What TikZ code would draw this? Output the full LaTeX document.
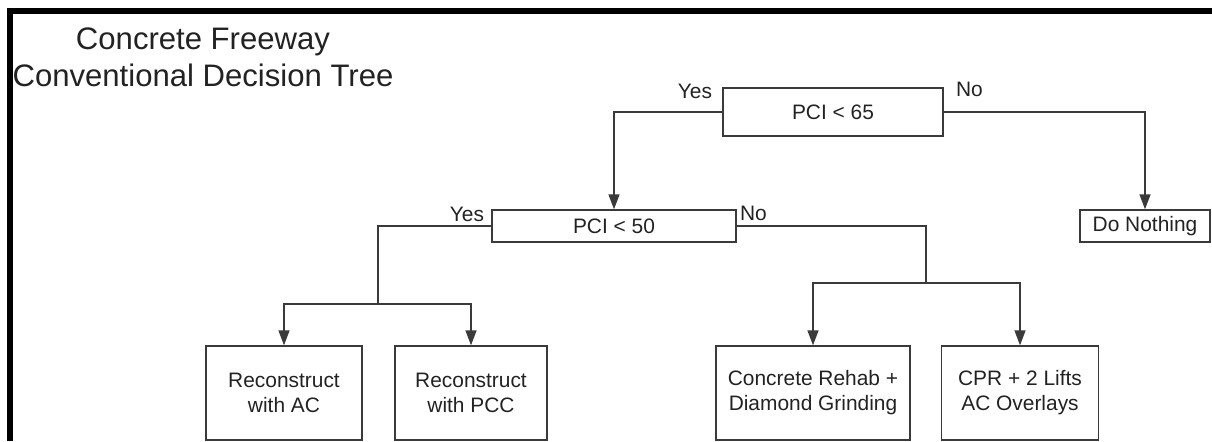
\documentclass[tikz,border=0pt]{standalone}
\usepackage{fontspec}
\setmainfont{Liberation Sans}
\usetikzlibrary{arrows.meta,positioning}
\definecolor{linegray}{HTML}{3A3A3A}
\definecolor{textgray}{HTML}{222222}

\begin{document}
\begin{tikzpicture}[x=0.02cm, y=-0.02cm,
  box/.style={rectangle, draw=linegray, line width=0.8pt, inner sep=0pt, align=center, text=textgray,
    font=\fontsize{11.9}{14.2}\selectfont},
  lbl/.style={inner sep=0pt, text=textgray, font=\fontsize{11.9}{14.2}\selectfont},
  conn/.style={draw=linegray, line width=0.8pt},
  arr/.style={conn, -{Triangle[length=3mm, width=2.2mm]}}
]
  \useasboundingbox (0,0) rectangle (1212,441);
  % frame
  \draw[line width=0.12cm] (1212,11) -- (10,11) -- (10,441);
  \node[align=center, text=textgray, font=\fontsize{17.7}{21}\selectfont] (title) at (203,57) {Concrete Freeway\\Conventional Decision Tree};

  \node[box, minimum width=4.4cm, minimum height=0.96cm] (pci65) at (833,112) {PCI < 65};
  \node[box, minimum width=4.88cm, minimum height=0.64cm] (pci50) at (614,226) {PCI < 50};
  \node[box, minimum width=2.6cm, minimum height=0.64cm] (nothing) at (1145,226) {Do Nothing};
  \node[box, minimum width=3.12cm, minimum height=1.88cm] (recac) at (284,393) {Reconstruct\\with AC};
  \node[box, minimum width=3.04cm, minimum height=1.88cm] (recpcc) at (471,393) {Reconstruct\\with PCC};
  \node[box, minimum width=3.88cm, minimum height=1.88cm] (rehab) at (813,393) {Concrete Rehab +\\Diamond Grinding};
  \node[box, minimum width=3.14cm, minimum height=1.88cm] (cpr) at (1020,393) {CPR + 2 Lifts\\AC Overlays};

  \node[lbl, anchor=east] (yes65) at ([xshift=-0.2cm, yshift=-0.08cm]pci65.north west) {Yes};
  \node[lbl, anchor=west] (no65) at ([xshift=0.24cm, yshift=-0.04cm]pci65.north east) {No};
  \node[lbl, anchor=east] (yes50) at ([xshift=-0.14cm, yshift=-0.1cm]pci50.north west) {Yes};
  \node[lbl, anchor=west] (no50) at ([xshift=0.06cm, yshift=-0.08cm]pci50.north east) {No};

  \coordinate (yessplit) at (378,304);
  \coordinate (nosplit) at (926,283);

  \draw[arr] (pci65.west) -| (pci50);
  \draw[arr] (pci65.east) -| (nothing);
  \draw[conn] (pci50.west) -| (yessplit);
  \draw[arr] (yessplit) -| (recac);
  \draw[arr] (yessplit) -| (recpcc);
  \draw[conn] (pci50.east) -| (nosplit);
  \draw[arr] (nosplit) -| (rehab);
  \draw[arr] (nosplit) -| (cpr);
\end{tikzpicture}
\end{document}
